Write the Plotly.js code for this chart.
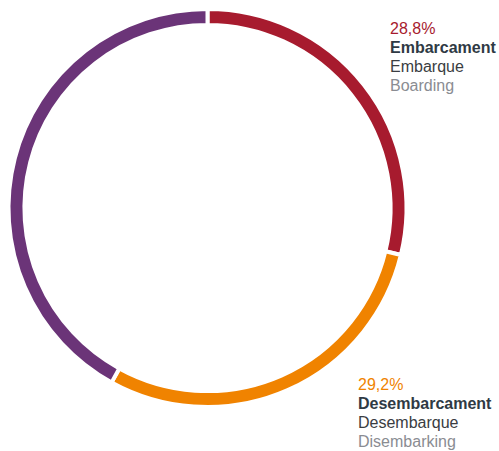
<!DOCTYPE html>
<html>
<head>
<meta charset="utf-8">
<script src="https://cdn.plot.ly/plotly-3.0.1.min.js"></script>
<style>html,body{margin:0;padding:0;background:#fff;}#chart{width:499px;height:451px;}</style>
</head>
<body>
<div id="chart"></div>
<script>
const categories = ["Embarcament", "Desembarcament", "Altres"];
const values = [28.8, 29.2, 42.0];
const sliceColors = ["#a71b2e", "#f08300", "#6b3478"];
const pctLabels = ["28,8%", "29,2%"];
const labelsCa = ["Embarcament", "Desembarcament"];
const labelsEs = ["Embarque", "Desembarque"];
const labelsEn = ["Boarding", "Disembarking"];

const W = 499, H = 451;
const font = "Liberation Sans, Arial, Helvetica, sans-serif";
const py = y => 1 - y / H;

const trace = {
  type: "pie",
  labels: categories,
  values: values,
  sort: false,
  direction: "clockwise",
  rotation: 0,
  hole: 0.92,
  textinfo: "none",
  hoverinfo: "none",
  showlegend: false,
  marker: { colors: sliceColors, line: { color: "#ffffff", width: 4 } },
  domain: { x: [8.5 / W, 406.5 / W], y: [py(407), py(9)] }
};

const blocks = [
  { x: 388, y0: 28.5 },
  { x: 356, y0: 384.5 }
];
const annotations = [];
blocks.forEach((b, i) => {
  const lines = [
    { t: pctLabels[i], c: sliceColors[i], bold: false },
    { t: labelsCa[i], c: "#2f3a44", bold: true },
    { t: labelsEs[i], c: "#3a3d42", bold: false },
    { t: labelsEn[i], c: "#8a8c92", bold: false }
  ];
  lines.forEach((ln, k) => {
    annotations.push({
      xref: "paper", yref: "paper",
      x: b.x / W, y: py(b.y0 + 19 * k),
      xanchor: "left", yanchor: "middle",
      showarrow: false,
      align: "left",
      text: ln.bold ? "<b>" + ln.t + "</b>" : ln.t,
      font: { family: font, size: 16, color: ln.c }
    });
  });
});

const layout = {
  width: W, height: H,
  margin: { l: 0, r: 0, t: 0, b: 0 },
  paper_bgcolor: "#ffffff",
  plot_bgcolor: "#ffffff",
  annotations: annotations,
  font: { family: font }
};

Plotly.newPlot("chart", [trace], layout, { displayModeBar: false, staticPlot: true });
</script>
</body>
</html>
